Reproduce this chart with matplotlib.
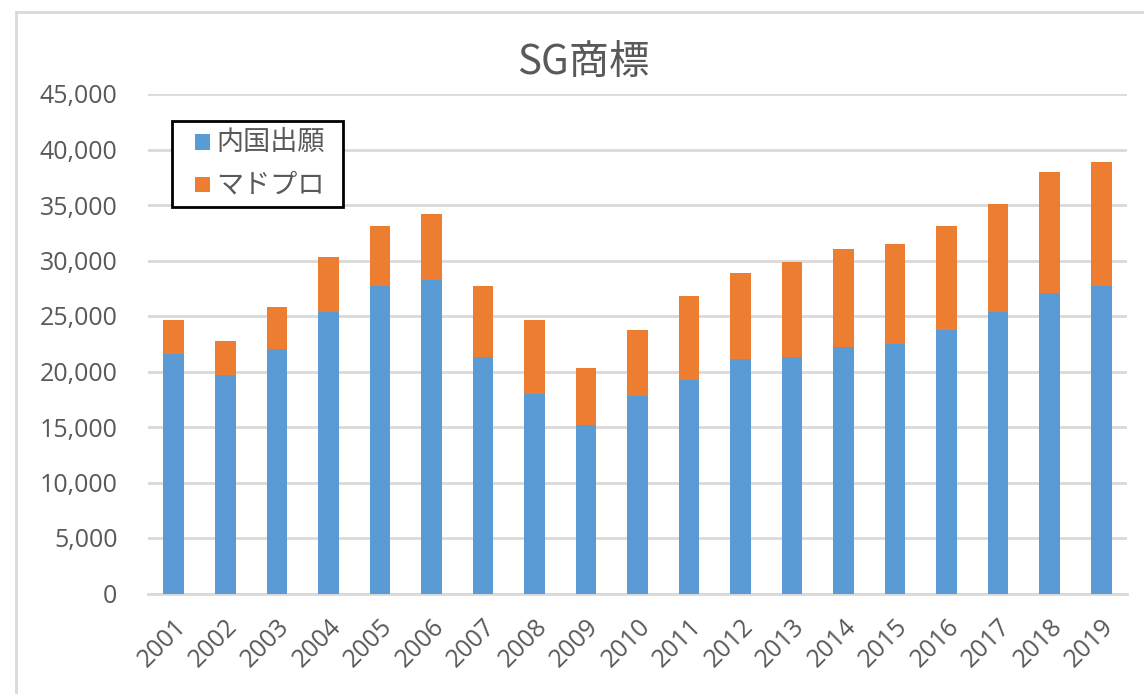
import matplotlib
matplotlib.use("Agg")
import matplotlib.pyplot as plt
from matplotlib.lines import Line2D
from matplotlib.patches import Rectangle
import numpy as np

plt.rcParams['font.family'] = ['Noto Sans CJK JP', 'DejaVu Sans']

years = [str(y) for y in range(2001, 2020)]
domestic = [21600, 19650, 22000, 25350, 27700, 28200, 21300, 17950, 15150,
            17750, 19200, 21100, 21300, 22250, 22500, 23700, 25350, 27050, 27700]
total = [24650, 22750, 25850, 30350, 33150, 34150, 27700, 24650, 20350,
         23700, 26800, 28900, 29850, 31050, 31500, 33150, 35100, 37950, 38900]
madpro = [t - d for t, d in zip(total, domestic)]

yticks = list(range(0, 45001, 5000))
ytick_labels = [f"{v:,}" for v in yticks]

title = "SG商標"
labels = ["内国出願", "マドプロ"]
blue = "#5B9BD5"
orange = "#ED7D31"
grid_c = "#D9D9D9"
text_c = "#595959"

W, H = 1144, 694
fig = plt.figure(figsize=(W/100, H/100), dpi=100)
ax = fig.add_axes([148/W, 1-593.5/H, 979/W, 499.5/H])

x = np.arange(len(years))
w = 0.40
ax.bar(x, domestic, w, color=blue, label=labels[0], zorder=3)
ax.bar(x, madpro, w, bottom=domestic, color=orange, label=labels[1], zorder=3)

ax.set_xlim(-0.5, len(years) - 0.5)
ax.set_ylim(0, 45000)
ax.set_yticks(yticks)
ax.set_yticklabels(ytick_labels, fontsize=18, color=text_c, family=['Open Sans', 'DejaVu Sans'])
ax.set_xticks(x)
ax.set_xticklabels(years, rotation=45, ha='right', rotation_mode='anchor',
                   fontsize=18, color=text_c, family=['Open Sans', 'DejaVu Sans'])
ax.tick_params(axis='y', length=0, pad=22)
ax.tick_params(axis='x', length=0, pad=15)

ax.grid(axis='y', color=grid_c, linewidth=2, zorder=0)
for s in ['top', 'right', 'left']:
    ax.spines[s].set_visible(False)
ax.spines['bottom'].set_color(grid_c)
ax.spines['bottom'].set_linewidth(2)

fig.text(583/W, 1-62/H, title, ha='center', va='center', fontsize=29, color=text_c)

# legend drawn in figure pixel coordinates
def fx(px):
    return px / W

def fy(py):
    return 1 - py / H

fig.add_artist(Rectangle((fx(172), fy(207)), fx(343) - fx(172), fy(121) - fy(207),
                         transform=fig.transFigure, facecolor='white',
                         edgecolor='black', linewidth=2, zorder=5))
for i, (lab, col) in enumerate(zip(labels, [blue, orange])):
    cy = 142 + i * 43
    fig.add_artist(Rectangle((fx(195), fy(cy + 7.5)), fx(15), 15 / H,
                             transform=fig.transFigure, facecolor=col,
                             edgecolor='none', zorder=6))
    fig.text(fx(216), fy(cy), lab, ha='left', va='center', fontsize=19.5,
             color=text_c, zorder=6)

fig.add_artist(Line2D([16/W, 1], [1-12/H, 1-12/H], color=grid_c, lw=2,
                      transform=fig.transFigure))
fig.add_artist(Line2D([16/W, 16/W], [0, 1-12/H], color=grid_c, lw=2,
                      transform=fig.transFigure))

fig.savefig("out.png", dpi=100)
